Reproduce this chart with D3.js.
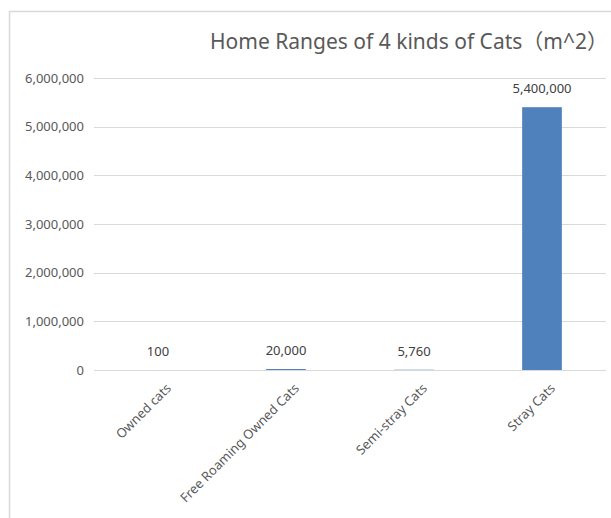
<!DOCTYPE html>
<html>
<head>
<meta charset="utf-8">
<script src="https://cdn.jsdelivr.net/npm/d3@7"></script>
<style>
  html, body { margin: 0; padding: 0; background: #fff; }
  svg { display: block; }
  text { font-family: "Noto Sans", "Noto Sans CJK SC", sans-serif; }
</style>
</head>
<body>
<svg id="chart" width="611" height="518"></svg>
<script>
const categories = ["Owned cats", "Free Roaming Owned Cats", "Semi-stray Cats", "Stray Cats"];
const values = [100, 20000, 5760, 5400000];
const valueLabels = ["100", "20,000", "5,760", "5,400,000"];
const yTicks = [0, 1000000, 2000000, 3000000, 4000000, 5000000, 6000000];
const title = "Home Ranges of 4 kinds of Cats（m^2）";

const svg = d3.select("#chart");
const W = 611, H = 518;
const plot = { left: 94, right: 606, top: 78, bottom: 370 };

// outer frame (extends past the visible window)
svg.append("rect")
  .attr("x", 9.5).attr("y", 11.5)
  .attr("width", W + 20).attr("height", H + 20)
  .attr("fill", "none").attr("stroke", "#d9d9d9").attr("stroke-width", 1.5);

const x = d3.scaleBand().domain(categories).range([plot.left, plot.right]).paddingInner(0.69).paddingOuter(0.345);
const y = d3.scaleLinear().domain([0, 6000000]).range([plot.bottom, plot.top]);

// gridlines
svg.append("g").selectAll("line").data(yTicks).join("line")
  .attr("x1", plot.left).attr("x2", plot.right)
  .attr("y1", d => Math.round(y(d)) + 0.5).attr("y2", d => Math.round(y(d)) + 0.5)
  .attr("stroke", "#d9d9d9").attr("stroke-width", 1);

// y axis labels
const yAxis = d3.axisLeft(y).tickValues(yTicks).tickSize(0).tickPadding(0).tickFormat(d3.format(","));
const ya = svg.append("g").attr("transform", `translate(${plot.left - 10},0)`).call(yAxis);
ya.select(".domain").remove();
ya.selectAll("text").attr("fill", "#595959").style("font-size", "13px")
  .style("font-family", '"Noto Sans", sans-serif');

// bars
svg.append("g").selectAll("rect").data(values).join("rect")
  .attr("x", (d, i) => x(categories[i]))
  .attr("width", x.bandwidth())
  .attr("y", d => y(d))
  .attr("height", d => y(0) - y(d))
  .attr("fill", "#4f81bd");

// value labels
svg.append("g").selectAll("text").data(values).join("text")
  .attr("x", (d, i) => x(categories[i]) + x.bandwidth() / 2)
  .attr("y", d => y(d) - 14)
  .attr("text-anchor", "middle")
  .attr("fill", "#404040")
  .style("font-size", "13px")
  .text((d, i) => valueLabels[i]);

// x axis labels
const xAxis = d3.axisBottom(x).tickSize(0).tickPadding(0);
const xa = svg.append("g").attr("transform", `translate(0,${plot.bottom})`).call(xAxis);
xa.select(".domain").remove();
xa.selectAll("text")
  .attr("fill", "#595959")
  .style("font-size", "13px")
  .style("font-family", '"Noto Sans", sans-serif')
  .attr("text-anchor", "end")
  .attr("dy", "0")
  .attr("transform", "translate(14,19) rotate(-45)");

// title
svg.append("text")
  .attr("x", 409).attr("y", 49)
  .attr("text-anchor", "middle")
  .attr("fill", "#595959")
  .style("font-size", "21px")
  .text(title);
</script>
</body>
</html>
